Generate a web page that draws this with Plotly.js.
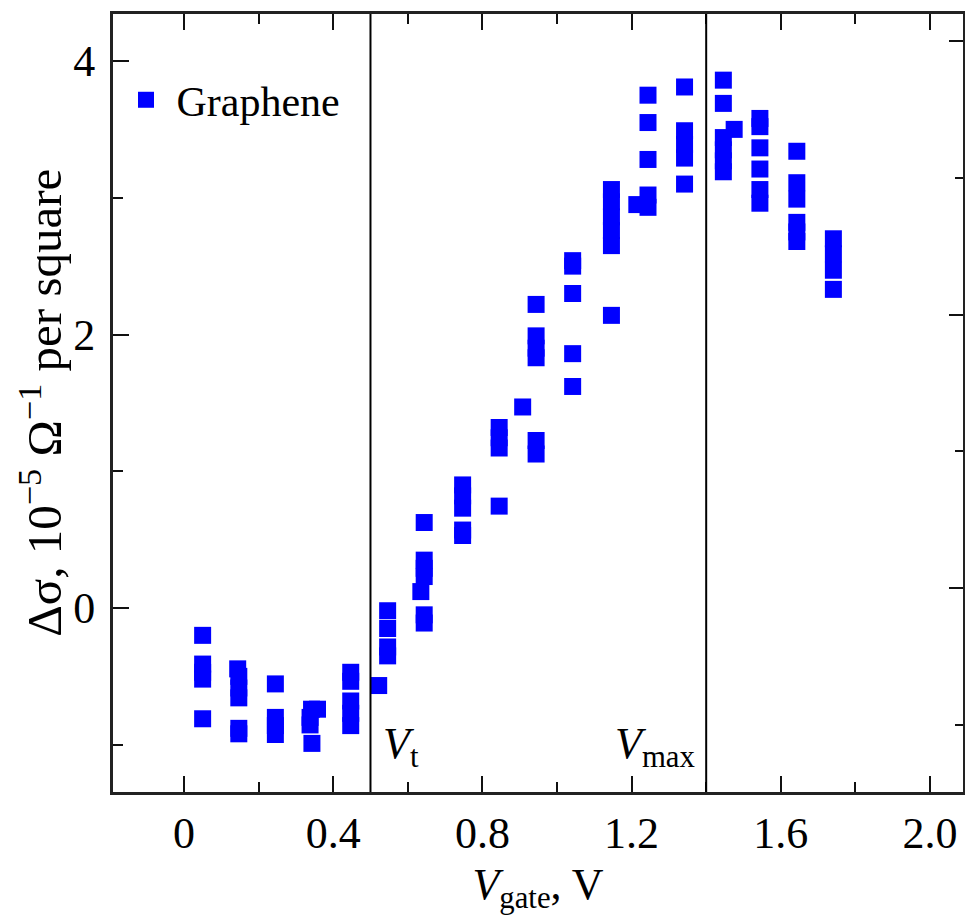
<!DOCTYPE html>
<html><head><meta charset="utf-8">
<script src="https://cdn.plot.ly/plotly-3.0.1.min.js"></script>
<style>html,body{margin:0;padding:0;background:#fff}#chart{width:965px;height:920px}</style>
</head><body><div id="chart"></div>
<script>
const vgate = [
  0.05,0.05,0.05,0.05,0.05,
  0.144,0.147,0.147,0.147,0.147,0.147,
  0.245,0.245,0.245,0.245,
  0.342,0.358,0.338,0.338,0.343,
  0.447,0.447,0.447,0.447,0.447,
  0.522,
  0.546,0.546,0.546,0.546,
  0.635,
  0.644,0.644,0.644,0.644,0.644,0.644,
  0.747,0.747,0.747,0.747,0.747,
  0.845,0.845,0.845,0.845,
  0.908,
  0.944,0.944,0.944,0.944,0.944,0.944,
  1.042,1.042,1.042,1.042,1.042,
  1.146,1.146,1.146,1.146,1.146,1.146,
  1.214,
  1.244,1.244,1.244,1.244,1.244,
  1.342,1.342,1.342,1.342,1.342,
  1.446,1.446,1.446,1.446,1.446,1.446,
  1.475,
  1.544,1.544,1.544,1.544,1.544,1.544,
  1.643,1.643,1.643,1.643,1.643,1.643,
  1.741,1.741,1.741,1.741
];
const dsigma = [
  -0.20,-0.41,-0.47,-0.52,-0.81,
  -0.445,-0.50,-0.585,-0.657,-0.88,-0.92,
  -0.555,-0.80,-0.86,-0.925,
  -0.74,-0.74,-0.80,-0.855,-0.99,
  -0.47,-0.536,-0.68,-0.77,-0.86,
  -0.567,
  -0.02,-0.15,-0.285,-0.35,
  0.12,
  0.625,0.35,0.29,0.23,-0.05,-0.11,
  0.90,0.82,0.73,0.57,0.53,
  1.32,1.245,1.17,0.745,
  1.47,
  2.22,1.99,1.90,1.83,1.225,1.126,
  2.54,2.50,2.30,1.86,1.62,
  3.06,2.97,2.86,2.76,2.65,2.14,
  2.95,
  3.75,3.55,3.28,3.02,2.93,
  3.81,3.49,3.39,3.29,3.10,
  3.86,3.69,3.44,3.35,3.27,3.19,
  3.50,
  3.58,3.52,3.365,3.21,3.06,2.96,
  3.34,3.11,2.99,2.82,2.75,2.68,
  2.70,2.59,2.47,2.33
];
const seriesName = '\u00a0Graphene';
const xMajor = [0, 0.4, 0.8, 1.2, 1.6, 2.0];
const xMajorText = ['0', '0.4', '0.8', '1.2', '1.6', '2.0'];
const xMinor = [0.2, 0.6, 1.0, 1.4, 1.8];
const yMajor = [0, 2, 4];
const yMinor = [-1, 1, 3];
const vLines = [0.5, 1.4];
const vLabels = ['<i>V</i><sub>t</sub>', '<i>V</i><sub>max</sub>'];
const xTitle = '<i>V</i><sub>gate</sub>, V';
const yTitle = '\u0394\u03c3, 10<sup>\u22125</sup> \u03a9<sup>\u22121</sup> per square';

const serif = 'Liberation Serif, Times New Roman, serif';
const yRange = [-1.3455, 4.3437];
const yShift = 0.146;

const traces = [
  {x: vgate, y: dsigma, type: 'scatter', mode: 'markers', name: seriesName,
   marker: {symbol: 'square', size: 17, color: '#0000ff'}},
  {x: [], y: [], type: 'scatter', mode: 'markers', yaxis: 'y2', showlegend: false, hoverinfo: 'skip'}
];

const layout = {
  width: 965, height: 920,
  margin: {l: 113, r: 2, t: 14, b: 128},
  paper_bgcolor: '#fff', plot_bgcolor: '#fff',
  showlegend: true,
  legend: {x: 0.0153, y: 0.8895, xanchor: 'left', yanchor: 'middle', bgcolor: 'rgba(0,0,0,0)',
           font: {family: serif, size: 42, color: '#000'}, itemwidth: 30},
  xaxis: {
    range: [-0.1903, 2.0885], showgrid: false, zeroline: false,
    showline: true, linewidth: 3, linecolor: '#222', mirror: 'ticks',
    ticks: 'inside', ticklen: 16, tickwidth: 2, tickcolor: '#111',
    tickmode: 'array', tickvals: xMajor, ticktext: xMajorText,
    minor: {tickvals: xMinor, ticklen: 10, tickwidth: 2, tickcolor: '#111', ticks: 'inside'},
    tickfont: {family: serif, size: 44, color: '#000'}, ticklabelstandoff: 0,
    title: {text: xTitle, font: {family: serif, size: 44, color: '#000'}, standoff: 12}
  },
  yaxis: {
    range: yRange, showgrid: false, zeroline: false,
    showline: true, linewidth: 3, linecolor: '#222', mirror: true,
    ticks: 'inside', ticklen: 16, tickwidth: 2, tickcolor: '#111',
    tickmode: 'array', tickvals: yMajor, ticktext: yMajor.map(String),
    minor: {tickvals: yMinor, ticklen: 10, tickwidth: 2, tickcolor: '#111', ticks: 'inside'},
    tickfont: {family: serif, size: 44, color: '#000'}, ticklabelstandoff: 6
  },
  yaxis2: {
    overlaying: 'y', side: 'right', range: [yRange[0] - yShift, yRange[1] - yShift],
    showgrid: false, zeroline: false, showline: false, showticklabels: false,
    ticks: 'inside', ticklen: 14, tickwidth: 2, tickcolor: '#111',
    tickmode: 'array', tickvals: yMajor,
    minor: {tickvals: yMinor, ticklen: 8, tickwidth: 2, tickcolor: '#111', ticks: 'inside'}
  },
  shapes: vLines.map(v => ({type: 'line', xref: 'x', yref: 'paper', x0: v, x1: v, y0: 0, y1: 1,
                            line: {color: '#000', width: 2}})),
  annotations: [
    {x: vLines[0], y: -1.01, xref: 'x', yref: 'y', text: vLabels[0], showarrow: false,
     xanchor: 'left', yanchor: 'middle', xshift: 11, font: {family: serif, size: 44, color: '#000'}},
    {x: vLines[1], y: -1.01, xref: 'x', yref: 'y', text: vLabels[1], showarrow: false,
     xanchor: 'right', yanchor: 'middle', xshift: -8, font: {family: serif, size: 44, color: '#000'}},
    {x: -0.085, y: 0.5, xref: 'paper', yref: 'paper', text: yTitle, showarrow: false, textangle: -90,
     xanchor: 'center', yanchor: 'middle', font: {family: serif, size: 49, color: '#000'}}
  ]
};

Plotly.newPlot('chart', traces, layout, {displayModeBar: false, staticPlot: true});
</script>
</body></html>
